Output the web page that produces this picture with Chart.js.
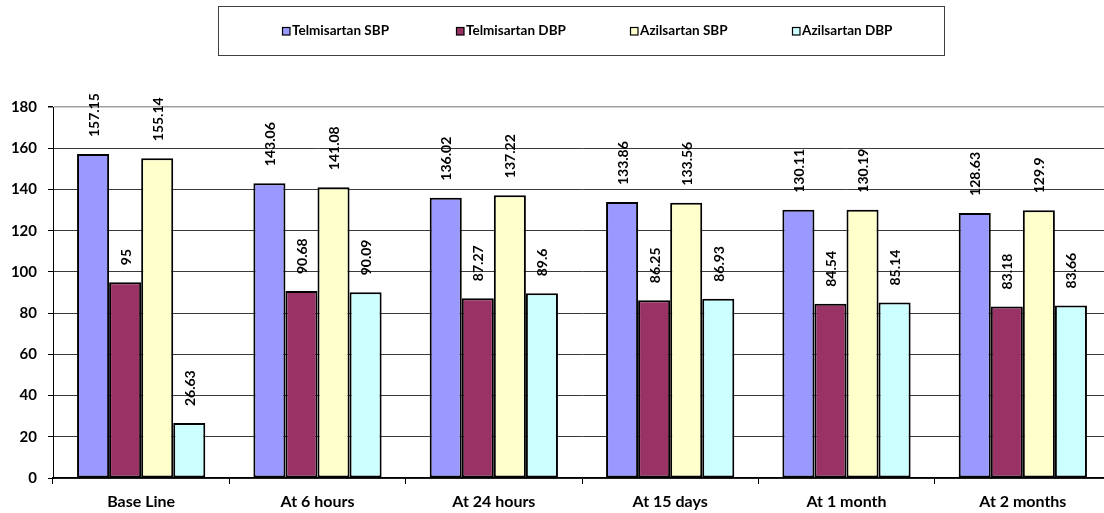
<!DOCTYPE html>
<html>
<head>
<meta charset="utf-8">
<script src="https://cdn.jsdelivr.net/npm/chart.js@4"></script>
<style>
  html, body { margin: 0; padding: 0; background: #fff; overflow: hidden; }
  #wrap { width: 1111px; height: 513px; }
</style>
</head>
<body>
<div id="wrap"><canvas id="c" width="1111" height="513"></canvas></div>
<script>
// Blood pressure readings over the follow-up period
const categories = ['Base Line', 'At 6 hours', 'At 24 hours', 'At 15 days', 'At 1 month', 'At 2 months'];
const seriesNames = ['Telmisartan SBP', 'Telmisartan DBP', 'Azilsartan SBP', 'Azilsartan DBP'];
const telmisartanSBP = [157.15, 143.06, 136.02, 133.86, 130.11, 128.63];
const telmisartanDBP = [95, 90.68, 87.27, 86.25, 84.54, 83.18];
const azilsartanSBP = [155.14, 141.08, 137.22, 133.56, 130.19, 129.9];
const azilsartanDBP = [26.63, 90.09, 89.6, 86.93, 85.14, 83.66];
const yTicks = [0, 20, 40, 60, 80, 100, 120, 140, 160, 180];

const seriesValues = [telmisartanSBP, telmisartanDBP, azilsartanSBP, azilsartanDBP];
const seriesColors = ['#9999FF', '#993366', '#FFFFCC', '#CCFFFF'];
const FONT = 'Lato, "DejaVu Sans", sans-serif';

// Rotated value labels above every bar
const valueLabels = {
  id: 'valueLabels',
  afterDatasetsDraw(chart) {
    const ctx = chart.ctx;
    ctx.save();
    ctx.fillStyle = '#000';
    ctx.font = 'bold 14px ' + FONT;
    ctx.textAlign = 'left';
    ctx.textBaseline = 'middle';
    chart.data.datasets.forEach((ds, di) => {
      const meta = chart.getDatasetMeta(di);
      meta.data.forEach((bar, i) => {
        ctx.save();
        ctx.translate(bar.x + 1, bar.y - 17);
        ctx.rotate(-Math.PI / 2);
        ctx.fillText(String(ds.data[i]), 0, 0);
        ctx.restore();
      });
    });
    ctx.restore();
  }
};

// Boxed legend across the top
const boxedLegend = {
  id: 'boxedLegend',
  afterDraw(chart) {
    const ctx = chart.ctx;
    ctx.save();
    ctx.strokeStyle = '#404040';
    ctx.lineWidth = 1;
    ctx.strokeRect(218.5, 6.5, 726, 49);
    const xs = [282, 456, 630, 792];
    ctx.font = 'bold 13.5px ' + FONT;
    ctx.textBaseline = 'middle';
    ctx.textAlign = 'left';
    chart.data.datasets.forEach((ds, i) => {
      const x = xs[i];
      ctx.fillStyle = ds.backgroundColor;
      ctx.fillRect(x, 27, 8, 8);
      ctx.strokeStyle = '#000';
      ctx.lineWidth = 1.2;
      ctx.strokeRect(x + 0.5, 27.5, 7.5, 7.5);
      ctx.fillStyle = '#000';
      ctx.fillText(ds.label, x + 10, 31);
    });
    ctx.restore();
  }
};

new Chart(document.getElementById('c'), {
  type: 'bar',
  data: {
    labels: categories,
    datasets: seriesNames.map((name, i) => ({
      label: name,
      data: seriesValues[i],
      backgroundColor: seriesColors[i],
      borderColor: '#000',
      borderWidth: 2,
      borderSkipped: false,
      categoryPercentage: 4 / 5.5,
      barPercentage: 1
    }))
  },
  options: {
    responsive: false,
    animation: false,
    layout: { padding: { top: 107, left: 0, right: 0, bottom: 0 } },
    plugins: {
      legend: { display: false },
      tooltip: { enabled: false }
    },
    scales: {
      x: {
        afterFit(scale) { scale.height = 35; },
        grid: {
          offset: true,
          drawOnChartArea: false,
          tickLength: 6,
          tickColor: '#000',
          lineWidth: 1
        },
        border: { color: '#000', width: 1.5 },
        ticks: {
          color: '#000',
          font: { family: FONT, size: 16, weight: 'bold' },
          padding: 8,
          maxRotation: 0
        }
      },
      y: {
        min: 0,
        max: 180,
        afterFit(scale) { scale.width = 53; },
        afterBuildTicks(scale) { scale.ticks = yTicks.map(v => ({ value: v })); },
        grid: {
          color: (c) => (c.tick && c.tick.value === 180 ? '#a0a0a0' : '#3a3a3a'),
          lineWidth: (c) => (c.tick && c.tick.value === 180 ? 1.5 : 1),
          tickLength: 5,
          tickColor: '#000'
        },
        border: { color: '#000', width: 1 },
        ticks: {
          color: '#000',
          font: { family: FONT, size: 15, weight: 'bold' },
          padding: 11
        }
      }
    }
  },
  plugins: [valueLabels, boxedLegend]
});
</script>
</body>
</html>
